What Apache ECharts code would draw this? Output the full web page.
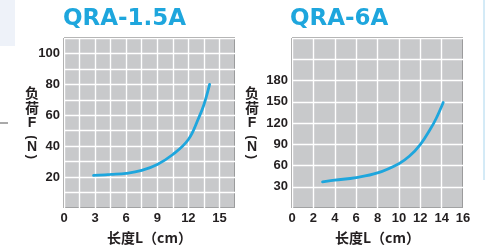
<!DOCTYPE html>
<html>
<head>
<meta charset="utf-8">
<script src="https://cdn.jsdelivr.net/npm/echarts@6/dist/echarts.min.js"></script>
<style>
    html, body { margin: 0; padding: 0; background: #fff; }
    #chart { width: 485px; height: 247px; }
</style>
</head>
<body>
<div id="chart"></div>
<script>
// QRA-1.5A: 长度 (cm) vs 负荷 (N)
var lenA = [2.85, 4.5, 6, 7.5, 9, 10.5, 12, 13, 13.5, 14.05];
var loadA = [21.1, 21.7, 22.4, 24.3, 28.2, 34.6, 44.3, 58.3, 66.8, 80];

// QRA-6A
var lenB = [2.86, 4, 6, 8, 10, 11, 12, 13, 13.5, 14.15];
var loadB = [37, 39.3, 43, 49.5, 62.6, 73.3, 89.5, 112.8, 126.7, 149];

var titles = ['QRA-1.5A', 'QRA-6A'];
var xName = '长度L（cm）';
// vertical y-axis name, one glyph per line; brackets are turned on their side
var yNameChars = ['负', '荷', 'F', '(', 'N', ')'];

function pairs(xs, ys) {
    var out = [];
    for (var i = 0; i < xs.length; i++) {
        out.push([xs[i], ys[i]]);
    }
    return out;
}

var textColor = '#231f20';
var blue = '#1ea6dd';
var labelFont = { color: textColor, fontSize: 13, fontWeight: 'bold', fontFamily: 'Liberation Sans' };

// stacked y name as graphic text
var nameRows = [93, 108, 123, 137.5, 147.5, 157];
function yNameGraphic(cx) {
    var els = [];
    for (var i = 0; i < yNameChars.length; i++) {
        var ch = yNameChars[i];
        var isBracket = ch === '(' || ch === ')';
        var isCjk = ch === '负' || ch === '荷';
        els.push({
            type: 'text',
            x: cx, y: nameRows[i],
            rotation: isBracket ? -Math.PI / 2 : 0,
            style: {
                text: ch,
                fill: textColor,
                font: 'bold ' + (isBracket ? 13 : 14) + 'px ' + (isCjk ? '"Noto Sans CJK SC"' : '"Liberation Sans"'),
                align: 'center',
                verticalAlign: 'middle'
            }
        });
    }
    return els;
}

var chartDom = document.getElementById('chart');
var myChart = echarts.init(chartDom);

var gridBase = {
    show: true,
    top: 38,
    bottom: 39,
    backgroundColor: '#c8c9cb',
    borderColor: '#3c3c3c',
    borderWidth: 1,
    containLabel: false,
    outerBoundsMode: 'none'
};

var splitWhite = { show: true, lineStyle: { color: '#ffffff', width: 1.4 } };

var titleStyle = { color: blue, fontSize: 23, fontWeight: 'bold', fontFamily: 'DejaVu Sans' };

var option = {
    animation: false,
    title: [
        { text: titles[0], left: 58, top: 3, textStyle: titleStyle },
        { text: titles[1], left: 285, top: 3, textStyle: titleStyle }
    ],
    grid: [
        Object.assign({}, gridBase, { left: 64, right: 250 }),
        Object.assign({}, gridBase, { left: 292, right: 22 })
    ],
    xAxis: [
        {
            gridIndex: 0, type: 'value', min: 0, max: 16.5, interval: 1.5,
            axisLine: { show: false }, axisTick: { show: false },
            splitLine: splitWhite,
            axisLabel: Object.assign({}, labelFont, {
                margin: 4, showMaxLabel: false,
                formatter: function (v) {
                    var k = v / 3;
                    return Math.abs(k - Math.round(k)) < 1e-6 && v <= 15 ? String(v) : '';
                }
            }),
            name: xName, nameLocation: 'middle', nameGap: 23,
            nameTextStyle: { color: textColor, fontSize: 14, fontWeight: 'bold', fontFamily: 'Noto Sans CJK SC' }
        },
        {
            gridIndex: 1, type: 'value', min: 0, max: 16, interval: 2,
            axisLine: { show: false }, axisTick: { show: false },
            splitLine: splitWhite,
            axisLabel: Object.assign({}, labelFont, { margin: 4, showMaxLabel: true }),
            name: xName, nameLocation: 'middle', nameGap: 23,
            nameTextStyle: { color: textColor, fontSize: 14, fontWeight: 'bold', fontFamily: 'Noto Sans CJK SC' }
        }
    ],
    yAxis: [
        {
            gridIndex: 0, type: 'value', min: 0, max: 110, interval: 10,
            axisLine: { show: false }, axisTick: { show: false },
            splitLine: splitWhite,
            axisLabel: Object.assign({}, labelFont, {
                margin: 4,
                formatter: function (v) {
                    return v % 20 === 0 && v > 0 && v <= 100 ? String(v) : '';
                }
            })
        },
        {
            gridIndex: 1, type: 'value', min: 0, max: 240, interval: 30,
            axisLine: { show: false }, axisTick: { show: false },
            splitLine: splitWhite,
            axisLabel: Object.assign({}, labelFont, {
                margin: 4,
                formatter: function (v) {
                    return v >= 30 && v <= 180 ? String(v) : '';
                }
            })
        }
    ],
    graphic: [
        { type: 'rect', shape: { x: 0, y: 0, width: 15, height: 46 }, style: { fill: '#eef2f9' } },
        { type: 'line', shape: { x1: 0, y1: 123, x2: 8, y2: 123 }, style: { stroke: '#555', lineWidth: 1 } },
        { type: 'line', shape: { x1: 484, y1: 0, x2: 484, y2: 180 }, style: { stroke: '#a9d6ee', lineWidth: 1 } }
    ].concat(yNameGraphic(32), yNameGraphic(252)),
    series: [
        {
            type: 'line', xAxisIndex: 0, yAxisIndex: 0, smooth: 0.4,
            data: pairs(lenA, loadA), showSymbol: false,
            lineStyle: { color: blue, width: 2.8, cap: 'round' }
        },
        {
            type: 'line', xAxisIndex: 1, yAxisIndex: 1, smooth: 0.4,
            data: pairs(lenB, loadB), showSymbol: false,
            lineStyle: { color: blue, width: 2.8, cap: 'round' }
        }
    ]
};

option && myChart.setOption(option);
</script>
</body>
</html>
